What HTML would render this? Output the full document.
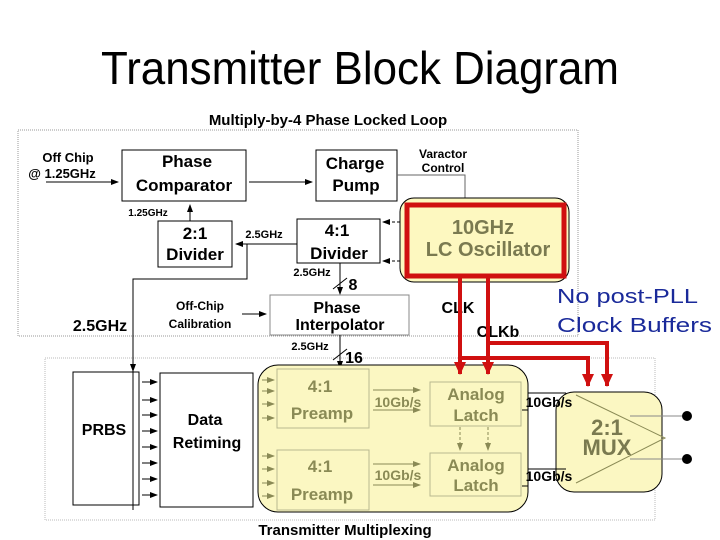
<!DOCTYPE html><html><head><style>body{margin:0;background:#fff}svg{display:block}text{font-family:"Liberation Sans",sans-serif}</style></head><body>
<svg width="720" height="540" viewBox="0 0 720 540" xmlns="http://www.w3.org/2000/svg">
<defs><marker id="a" markerWidth="8" markerHeight="8" refX="7" refY="4" orient="auto" markerUnits="userSpaceOnUse"><path d="M0,1 L8,4 L0,7z" fill="#000"/></marker>
<marker id="r" markerWidth="14" markerHeight="14" refX="12" refY="7" orient="auto" markerUnits="userSpaceOnUse"><path d="M0,1 L13,7 L0,13z" fill="#d01010"/></marker>
<marker id="g" markerWidth="8" markerHeight="8" refX="7" refY="4" orient="auto" markerUnits="userSpaceOnUse"><path d="M0,1 L8,4 L0,7z" fill="#8a8a55"/></marker></defs>
<text x="101" y="84" font-size="46" textLength="518" lengthAdjust="spacingAndGlyphs">Transmitter Block Diagram</text>
<text x="328" y="125" font-size="15" font-weight="bold" text-anchor="middle">Multiply-by-4 Phase Locked Loop</text>
<rect x="18" y="130" width="560" height="206" fill="none" stroke="#999" stroke-dasharray="1,1"/>
<rect x="45" y="358" width="610" height="162" fill="none" stroke="#bbb" stroke-dasharray="1,1"/>
<g font-weight="bold" font-size="17" text-anchor="middle" stroke="#000" fill="none" stroke-width="1">
<rect x="122" y="150" width="124" height="51"/><rect x="316" y="150" width="81" height="51"/>
<rect x="158" y="221" width="74" height="46"/><rect x="297" y="219" width="83" height="44"/>
<rect x="270" y="295" width="139" height="40" stroke="#888"/>
<rect x="73" y="372" width="66" height="133"/><rect x="160" y="373" width="93" height="134"/>
</g>
<g font-weight="bold" text-anchor="middle" fill="#000">
<text x="187" y="167" font-size="17">Phase</text><text x="184" y="191" font-size="17">Comparator</text>
<text x="355" y="169" font-size="17">Charge</text><text x="356" y="191" font-size="17">Pump</text>
<text x="195" y="239" font-size="17">2:1</text><text x="195" y="260" font-size="17">Divider</text>
<text x="337" y="236" font-size="17">4:1</text><text x="339" y="259" font-size="17">Divider</text>
<text x="337" y="313" font-size="16">Phase</text><text x="340" y="330" font-size="16">Interpolator</text>
<text x="104" y="435" font-size="16">PRBS</text>
<text x="205" y="425" font-size="16">Data</text><text x="207" y="448" font-size="16">Retiming</text>
<text x="68" y="162" font-size="13">Off Chip</text><text x="62" y="178" font-size="13">@ 1.25GHz</text>
<text x="443" y="158" font-size="12">Varactor</text><text x="443" y="172" font-size="12">Control</text>
<text x="148" y="216" font-size="10">1.25GHz</text>
<text x="264" y="238" font-size="11">2.5GHz</text>
<text x="312" y="276" font-size="11">2.5GHz</text><text x="353" y="290" font-size="16">8</text>
<text x="310" y="350" font-size="11">2.5GHz</text><text x="354" y="363" font-size="16">16</text>
<text x="200" y="310" font-size="12">Off-Chip</text><text x="200" y="328" font-size="12">Calibration</text>
<text x="100" y="331" font-size="16">2.5GHz</text>
<text x="458" y="313" font-size="16">CLK</text><text x="498" y="337" font-size="16">CLKb</text>
<text x="345" y="535" font-size="15">Transmitter Multiplexing</text>
</g>
<text x="557" y="303" font-size="20" fill="#1a2a9a" textLength="141" lengthAdjust="spacingAndGlyphs">No post-PLL</text>
<text x="557" y="332" font-size="20" fill="#1a2a9a" textLength="155" lengthAdjust="spacingAndGlyphs">Clock Buffers</text>
<g stroke="#000" fill="none" stroke-width="1">
<line x1="46" y1="182" x2="118" y2="182" marker-end="url(#a)"/>
<line x1="249" y1="182" x2="312" y2="182" marker-end="url(#a)"/>
<polyline points="397,175 465,175 465,203" stroke="#666"/>
<line x1="190" y1="221" x2="190" y2="205" marker-end="url(#a)"/>
<line x1="297" y1="244" x2="236" y2="244" marker-end="url(#a)"/>
<polyline points="247,244 247,279 133,279 133,510"/>
<line x1="133" y1="360" x2="133" y2="371" marker-end="url(#a)"/>
<line x1="340" y1="263" x2="340" y2="294" marker-end="url(#a)"/>
<line x1="333" y1="289" x2="347" y2="278"/>
<line x1="242" y1="314" x2="266" y2="314" marker-end="url(#a)"/>
<line x1="340" y1="335" x2="340" y2="368" marker-end="url(#a)"/>
<line x1="333" y1="360" x2="347" y2="349"/>
<line x1="400" y1="222" x2="383" y2="222" stroke-dasharray="3,2" marker-end="url(#a)"/>
<line x1="400" y1="261" x2="383" y2="261" stroke-dasharray="3,2" marker-end="url(#a)"/>
</g>
<g stroke="#000">
<line x1="142" y1="382" x2="157" y2="382" marker-end="url(#a)"/><line x1="142" y1="400" x2="157" y2="400" marker-end="url(#a)"/>
<line x1="142" y1="415" x2="157" y2="415" marker-end="url(#a)"/><line x1="142" y1="431" x2="157" y2="431" marker-end="url(#a)"/>
<line x1="142" y1="447" x2="157" y2="447" marker-end="url(#a)"/><line x1="142" y1="463" x2="157" y2="463" marker-end="url(#a)"/>
<line x1="142" y1="479" x2="157" y2="479" marker-end="url(#a)"/><line x1="142" y1="495" x2="157" y2="495" marker-end="url(#a)"/>
</g>
<rect x="400" y="198" width="169" height="84" rx="14" fill="#fdf8c0" stroke="#000"/>
<rect x="407" y="205" width="157" height="71" fill="none" stroke="#d01010" stroke-width="5"/>
<text x="483" y="234" font-size="20" font-weight="bold" fill="#7a7a50" text-anchor="middle">10GHz</text>
<text x="488" y="256" font-size="20" font-weight="bold" fill="#7a7a50" text-anchor="middle">LC Oscillator</text>
<rect x="258" y="365" width="270" height="147" rx="20" fill="#fbf7c2" stroke="#000"/>
<g stroke="#b8b890" fill="none"><rect x="277" y="369" width="92" height="59"/><rect x="277" y="450" width="92" height="60"/>
<rect x="430" y="382" width="91" height="44"/><rect x="430" y="453" width="91" height="43"/></g>
<g font-weight="bold" fill="#8a8a55" text-anchor="middle" font-size="17">
<text x="320" y="392">4:1</text><text x="322" y="419">Preamp</text>
<text x="320" y="472">4:1</text><text x="322" y="500">Preamp</text>
<text x="476" y="400">Analog</text><text x="476" y="421">Latch</text>
<text x="476" y="471">Analog</text><text x="476" y="491">Latch</text>
<text x="398" y="407" font-size="14">10Gb/s</text><text x="398" y="480" font-size="14">10Gb/s</text>
</g>
<g stroke="#8a8a55">
<line x1="262" y1="380" x2="274" y2="380" marker-end="url(#g)"/><line x1="262" y1="391" x2="274" y2="391" marker-end="url(#g)"/>
<line x1="262" y1="404" x2="274" y2="404" marker-end="url(#g)"/><line x1="262" y1="418" x2="274" y2="418" marker-end="url(#g)"/>
<line x1="262" y1="456" x2="274" y2="456" marker-end="url(#g)"/><line x1="262" y1="469" x2="274" y2="469" marker-end="url(#g)"/>
<line x1="262" y1="483" x2="274" y2="483" marker-end="url(#g)"/><line x1="262" y1="496" x2="274" y2="496" marker-end="url(#g)"/>
<line x1="373" y1="390" x2="420" y2="390" marker-end="url(#g)"/><line x1="373" y1="410" x2="420" y2="410" marker-end="url(#g)"/>
<line x1="373" y1="464" x2="420" y2="464" marker-end="url(#g)"/><line x1="373" y1="485" x2="420" y2="485" marker-end="url(#g)"/>
<line x1="460" y1="427" x2="460" y2="450" stroke-dasharray="3,2" marker-end="url(#g)"/>
<line x1="488" y1="427" x2="488" y2="450" stroke-dasharray="3,2" marker-end="url(#g)"/>
</g>
<rect x="556" y="392" width="106" height="100" rx="18" fill="#fbf7c2" stroke="#000"/>
<polyline points="576,395 665,438 576,483" fill="none" stroke="#8a8a55"/>
<text x="607" y="435" font-size="22" font-weight="bold" fill="#7a7a50" text-anchor="middle">2:1</text>
<text x="607" y="455" font-size="22" font-weight="bold" fill="#7a7a50" text-anchor="middle">MUX</text>
<g stroke="#000" fill="none"><polyline points="522,410 528,410 528,393 566,393"/><polyline points="522,486 528,486 528,469 566,469"/></g>
<text x="549" y="407" font-size="14" font-weight="bold" text-anchor="middle">10Gb/s</text>
<text x="549" y="481" font-size="14" font-weight="bold" text-anchor="middle">10Gb/s</text>
<line x1="630" y1="416" x2="686" y2="416" stroke="#888"/><line x1="630" y1="459" x2="686" y2="459" stroke="#888"/>
<circle cx="687" cy="416" r="5"/><circle cx="687" cy="459" r="5"/>
<g stroke="#d01010" stroke-width="4" fill="none">
<line x1="460" y1="276" x2="460" y2="374" marker-end="url(#r)"/>
<line x1="488" y1="276" x2="488" y2="374" marker-end="url(#r)"/>
<polyline points="460,358 588,358 588,386" marker-end="url(#r)"/>
<polyline points="488,343 607,343 607,386" marker-end="url(#r)"/>
</g>
</svg></body></html>
